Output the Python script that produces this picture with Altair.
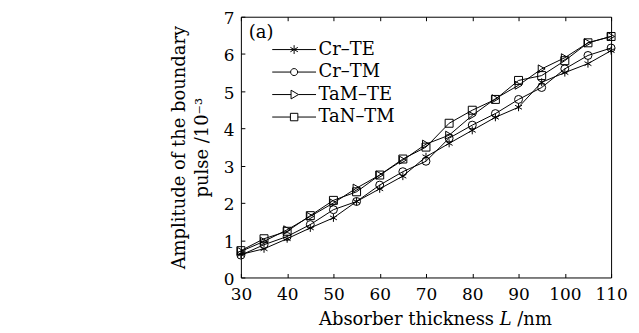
import altair as alt
import pandas as pd

# ---- data ----
x_vals = [30, 35, 40, 45, 50, 55, 60, 65, 70, 75, 80, 85, 90, 95, 100, 105, 110]
cr_te = [0.62, 0.77, 1.04, 1.33, 1.60, 2.04, 2.38, 2.72, 3.24, 3.60, 3.95, 4.30, 4.57, 5.24, 5.50, 5.74, 6.09]
cr_tm = [0.60, 0.88, 1.10, 1.42, 1.82, 2.04, 2.48, 2.84, 3.12, 3.74, 4.09, 4.40, 4.78, 5.10, 5.60, 5.96, 6.16]
tam_te = [0.70, 0.97, 1.28, 1.64, 2.00, 2.40, 2.75, 3.15, 3.58, 3.82, 4.35, 4.80, 5.16, 5.60, 5.90, 6.30, 6.47]
tan_tm = [0.72, 1.04, 1.24, 1.66, 2.07, 2.30, 2.75, 3.18, 3.50, 4.14, 4.49, 4.78, 5.29, 5.42, 5.82, 6.30, 6.47]
series_names = ["Cr–TE", "Cr–TM", "TaM–TE", "TaN–TM"]
x_ticks = [30, 40, 50, 60, 70, 80, 90, 100, 110]
y_ticks = [0, 1, 2, 3, 4, 5, 6, 7]
panel_label = ["(a)"]

rows = []
for name, vals in zip(series_names, [cr_te, cr_tm, tam_te, tan_tm]):
    for xv, yv in zip(x_vals, vals):
        rows.append({"L": xv, "amp": yv, "series": name})
df = pd.DataFrame(rows)

FONT = "DejaVu Serif"
xscale = alt.Scale(domain=[30, 110], nice=False)
yscale = alt.Scale(domain=[0, 7], nice=False)

star = "M0,-1L0,1M-0.87,-0.5L0.87,0.5M-0.87,0.5L0.87,-0.5"
marker_paths = [star, "circle", "triangle-right", "square"]
legend_paths = [
    "M-1,0H1M0,-0.2V0.2M-0.17,-0.1L0.17,0.1M-0.17,0.1L0.17,-0.1",
    "M-1,0H-0.16M0.16,0H1M0.16,0A0.16,0.16 0 1,1 -0.16,0A0.16,0.16 0 1,1 0.16,0",
    "M-1,0H-0.14M0.2,0H1M-0.14,-0.2L0.2,0L-0.14,0.2Z",
    "M-1,0H-0.17M0.17,0H1M-0.17,-0.17H0.17V0.17H-0.17Z",
]

base = alt.Chart(df)

lines = base.mark_line(color="black", strokeWidth=1).encode(
    x=alt.X("L:Q", scale=xscale, axis=alt.Axis(
        orient="bottom", values=x_ticks, domain=False, tickSize=4, offset=-4,
        labelPadding=9, grid=False, labelOverlap=False, labelFlush=False,
        title="Absorber thickness 𝐿 /nm", titlePadding=8, titleX=195)),
    y=alt.Y("amp:Q", scale=yscale, axis=alt.Axis(
        orient="left", values=y_ticks, domain=False, tickSize=4, offset=-4,
        labelPadding=7, grid=False, labelOverlap=False, labelFlush=False,
        labelOffset=2,
        title=["Amplitude of the boundary", "pulse /10⁻³"],
        titlePadding=12, titleLineHeight=23)),
    detail="series:N",
)

points = base.mark_point(color="black", filled=False, strokeWidth=1, size=64, opacity=1).encode(
    x=alt.X("L:Q", scale=xscale, axis=alt.Axis(
        orient="top", values=x_ticks, labels=False, domain=False, tickSize=4,
        offset=-4, title=None, grid=False)),
    y=alt.Y("amp:Q", scale=yscale, axis=None),
    shape=alt.Shape("series:N", scale=alt.Scale(domain=series_names, range=marker_paths), legend=None),
)

legend_layer = base.mark_point(color="black", filled=False, strokeWidth=1, size=1936, opacity=0).encode(
    x=alt.X("L:Q", scale=xscale, axis=None),
    y=alt.Y("amp:Q", scale=yscale, axis=None),
    shape=alt.Shape("series:N", scale=alt.Scale(domain=series_names, range=legend_paths),
                    legend=alt.Legend(orient="none", legendX=31, legendY=22, title=None,
                                      labelFont=FONT, labelFontSize=18, labelColor="black",
                                      symbolSize=1936, clipHeight=22, symbolStrokeWidth=1,
                                      symbolStrokeColor="black", symbolOffset=0,
                                      labelOffset=2, rowPadding=0.6, padding=0)),
)

label = alt.Chart(pd.DataFrame({"t": panel_label})).mark_text(
    font=FONT, fontSize=18, align="left", baseline="middle", color="black"
).encode(text="t:N", x=alt.value(8), y=alt.value(16))

chart = alt.layer(lines, points, legend_layer, label).resolve_scale(
    shape="independent"
).resolve_axis(x="independent", y="independent").properties(
    width=372, height=262,
    autosize=alt.AutoSizeParams(type="none"),
    padding={"left": 234, "top": 8, "right": 20, "bottom": 50},
).configure_view(stroke="black", strokeWidth=1).configure_axis(
    labelFont=FONT, labelFontSize=17, labelColor="black",
    titleFont=FONT, titleFontSize=18, titleColor="black", titleFontWeight="normal",
    tickColor="black", tickWidth=1,
)

chart.save("out.html", embed_options={"renderer": "svg", "actions": False})
